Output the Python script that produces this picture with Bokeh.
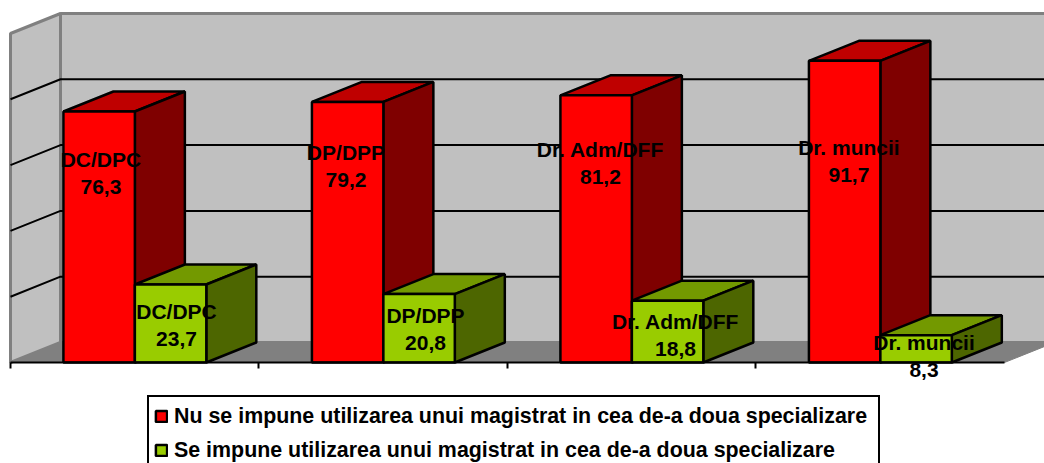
from bokeh.plotting import figure
from bokeh.models import Range1d, LinearAxis, FixedTicker, Legend, LegendItem
from bokeh.core.properties import value
from bokeh.embed import file_html
from bokeh.resources import INLINE

categories = ["DC/DPC", "DP/DPP", "Dr. Adm/DFF", "Dr. muncii"]
series_red = [76.3, 79.2, 81.2, 91.7]
series_green = [23.7, 20.8, 18.8, 8.3]
value_labels_red = ["76,3", "79,2", "81,2", "91,7"]
value_labels_green = ["23,7", "20,8", "18,8", "8,3"]
series_names = ["Nu se impune utilizarea unui magistrat in cea de-a doua specializare",
                "Se impune utilizarea unui magistrat in cea de-a doua specializare"]
grid_values = [20, 40, 60, 80]

# layout constants (plot units)
DX, DY = 0.2012, 6.08
BAR_L, BAR_W = 0.213, 0.2875
N = len(categories)
FONT = "Liberation Sans"
FS = "21px"
EDGE = 2.5

# label centres
red_lab_x = [0.364, 0.350, 0.374, 0.374]
red_lab_y = [61.6, 63.7, 64.6, 65.2]
green_lab_x = [0.668, 0.670, 0.676, 0.676]
green_lab_y = [15.4, 14.2, 12.4, 6.0]
GAP = 8.2

p = figure(width=1044, height=463, output_backend="svg", toolbar_location=None,
           x_range=Range1d(-0.0402, 4.1610), y_range=Range1d(-30.7, 110.03),
           min_border=0, outline_line_color=None, background_fill_color="white",
           border_fill_color="white")
p.xaxis.visible = False
p.yaxis.visible = False
p.grid.visible = False

GRAY = "#808080"
# floor, walls
p.patch([DX, N + DX, N + DX, DX], [DY, DY, 100 + DY, 100 + DY], fill_color="#C0C0C0",
        line_color=GRAY, line_width=3)
p.patch([0, DX, DX, 0], [0, DY, 100 + DY, 100], fill_color="#C0C0C0", line_color=GRAY, line_width=3)
# floor redrawn over the walls' lower border
p.patch([0, N, N + DX, DX], [0, 0, DY, DY], fill_color=GRAY, line_color=GRAY, line_width=1)

for g in grid_values:
    p.line([0, DX, N + DX], [g, g + DY, g + DY], line_color="black", line_width=2)


def bar(i, left, val, front, top, side):
    x0, x1 = i + left, i + left + BAR_W
    p.patch([x0, x0 + DX, x1 + DX, x1], [val, val + DY, val + DY, val], fill_color=top,
            line_color="black", line_width=EDGE)
    p.patch([x1, x1 + DX, x1 + DX, x1], [0, DY, val + DY, val], fill_color=side,
            line_color="black", line_width=EDGE)
    return p.patch([x0, x1, x1, x0], [0, 0, val, val], fill_color=front,
                   line_color="black", line_width=EDGE)


rend_r = rend_g = None
for i in range(N):
    rend_r = bar(i, BAR_L, series_red[i], "#FF0000", "#BF0000", "#7F0000")
    rend_g = bar(i, BAR_L + BAR_W, series_green[i], "#99CC00", "#739900", "#4D6600")

# axis along the front floor edge
ax = LinearAxis(ticker=FixedTicker(ticks=list(range(N))), fixed_location=0,
                major_label_overrides={i: "" for i in range(N)}, major_tick_out=6, major_tick_in=0,
                minor_tick_line_color=None, axis_line_color="black", axis_line_width=2,
                major_tick_line_color="black", major_tick_line_width=2, bounds=(0, N))
p.add_layout(ax, "below")


def labels(xs, ys, names, vals):
    tx = [i + xs[i] for i in range(N)]
    p.text(tx, ys, text=names, text_font=value(FONT), text_font_style="bold",
           text_font_size=FS, text_align="center", text_baseline="middle", text_color="black")
    p.text(tx, [y - GAP for y in ys], text=vals, text_font=value(FONT), text_font_style="bold",
           text_font_size=FS, text_align="center", text_baseline="middle", text_color="black")


labels(red_lab_x, red_lab_y, categories, value_labels_red)
labels(green_lab_x, green_lab_y, categories, value_labels_green)

legend = Legend(items=[LegendItem(label=series_names[0], renderers=[rend_r]),
                       LegendItem(label=series_names[1], renderers=[rend_g])],
                location=(147, -8), orientation="vertical",
                label_text_font=FONT, label_text_font_style="bold", label_text_font_size="21.4px",
                label_text_color="black", glyph_width=14, glyph_height=14, label_standoff=6,
                spacing=6, padding=5, margin=0, border_line_color="black", border_line_width=2,
                border_line_alpha=1, background_fill_color="white", background_fill_alpha=1,
                label_height=28, label_width=699)
p.add_layout(legend, "center")

open("out.html", "w").write(file_html(p, INLINE))
